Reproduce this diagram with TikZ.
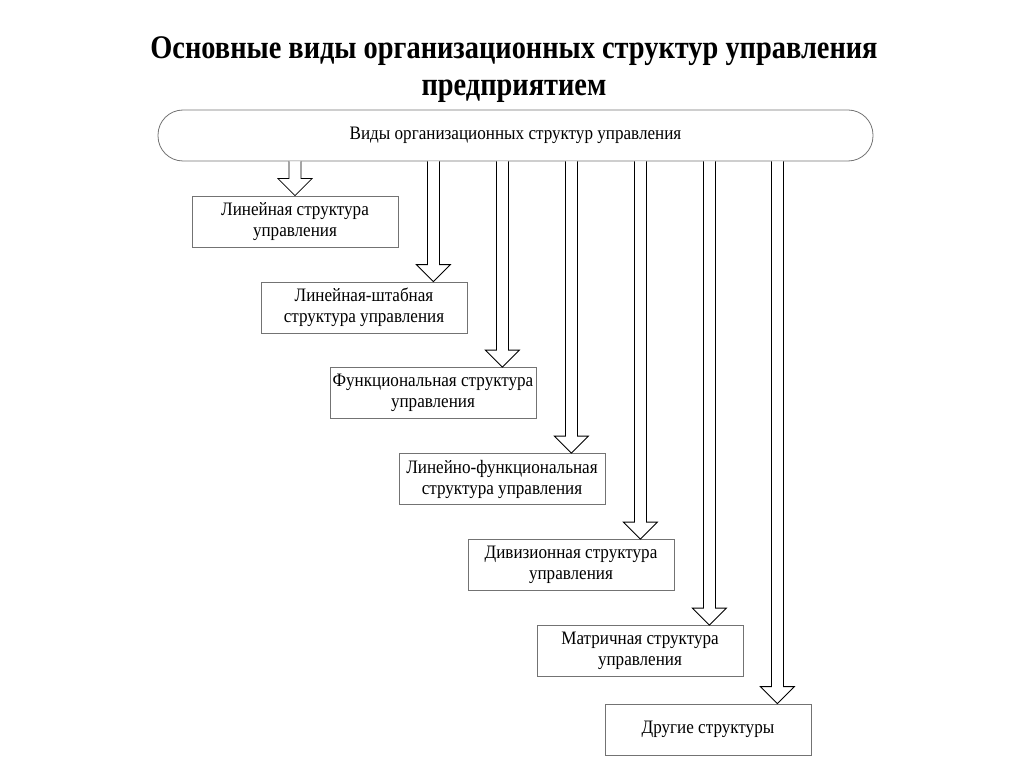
\documentclass[tikz,border=0pt]{standalone}
\usepackage{fontspec}
\setmainfont{Liberation Serif}
\newfontfamily\titlefont[FakeStretch=0.86]{Liberation Serif}
\newfontfamily\bodyfont[FakeStretch=0.9]{Liberation Serif}
\usetikzlibrary{calc}
\tikzset{
  kind/.style={draw=black!55, line width=0.8pt, minimum width=206pt, minimum height=51pt,
    align=center, inner sep=2pt, font=\bodyfont\fontsize{19}{21}\selectfont},
  topbox/.style={draw=black!55, line width=0.8pt, rounded corners=25pt, minimum width=715pt,
    minimum height=51pt, font=\bodyfont\fontsize{19}{21}\selectfont},
  hollow/.style={draw=black, line width=0.8pt, fill=white, line join=miter},
}
\newcommand\blockarrow[2]{%
  \draw[hollow] ($(#1)+(-6,0)$) -- ($(#2)+(-6,-17)$) -- ($(#2)+(-17,-17)$) -- (#2)
    -- ($(#2)+(17,-17)$) -- ($(#2)+(6,-17)$) -- ($(#1)+(6,0)$);}
\begin{document}
\begin{tikzpicture}[x=1pt,y=-1pt]
\useasboundingbox (0,0) rectangle (1024,767);
\node[font=\titlefont\bfseries\fontsize{33}{37}\selectfont, align=center] (title) at (514,70)
  {Основные виды организационных структур управления\\предприятием};
\node[topbox] (top) at (515.5,135.5) {Виды организационных структур управления};
\node[kind] (b1) at (295,221.5) {Линейная структура\\управления};
\node[kind] (b2) at (364,307.5) {Линейная-штабная\\структура управления};
\node[kind] (b3) at (433,393) {Функциональная структура\\управления};
\node[kind] (b4) at (502,479) {Линейно-функциональная\\структура управления};
\node[kind] (b5) at (571,565) {Дивизионная структура\\управления};
\node[kind] (b6) at (640,651) {Матричная структура\\управления};
\node[kind] (b7) at (708,729.5) {Другие структуры};
\coordinate (t1) at (b1.north);
\foreach \k in {2,...,7} {\coordinate (t\k) at ($(b\k.north east)+(-34,0)$);}
\foreach \k in {1,...,7} {\coordinate (s\k) at (top.south -| t\k); \blockarrow{s\k}{t\k}}
\end{tikzpicture}
\end{document}
